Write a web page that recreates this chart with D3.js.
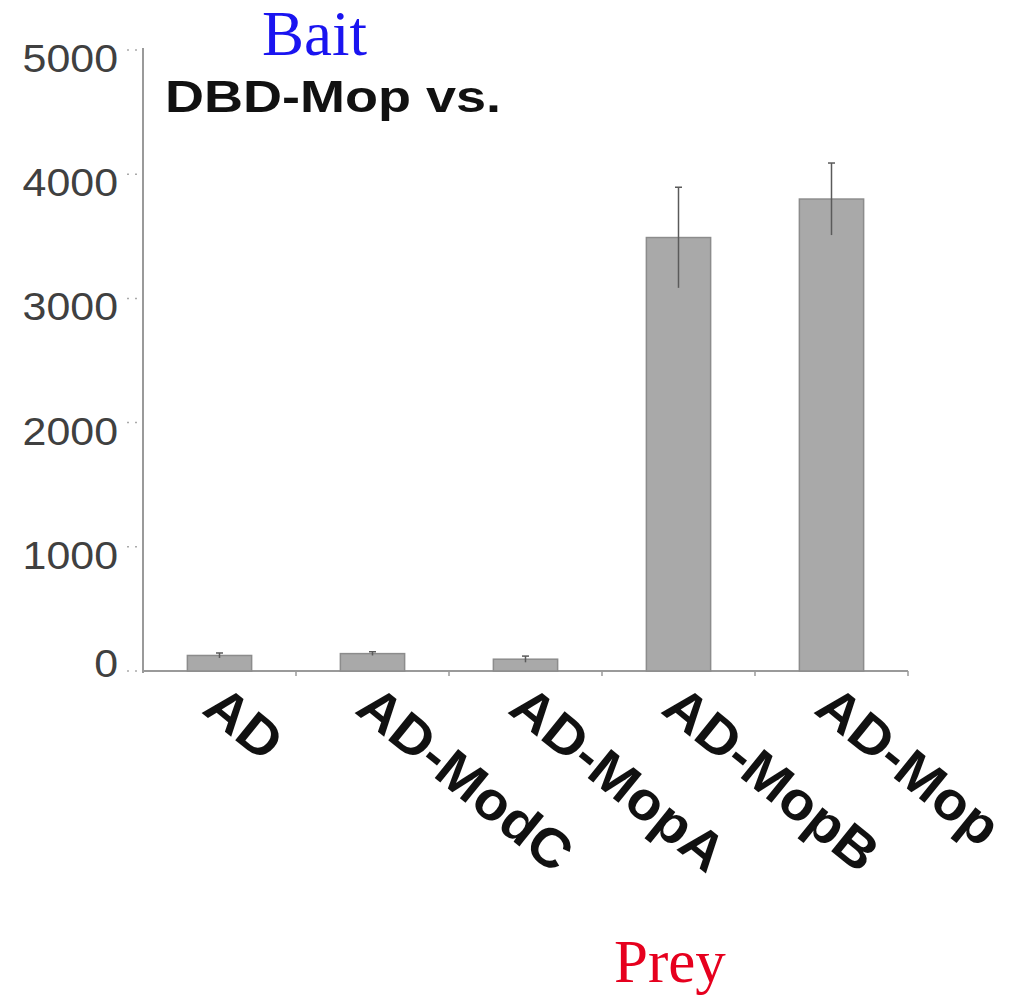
<!DOCTYPE html>
<html>
<head>
<meta charset="utf-8">
<script src="https://cdn.jsdelivr.net/npm/d3@7"></script>
<style>
  html, body { margin: 0; padding: 0; background: #fff; }
  svg { display: block; }
</style>
</head>
<body>
<svg id="chart" width="1015" height="996"></svg>
<script>
// ---- data ----
const categories = ["AD", "AD-ModC", "AD-MopA", "AD-MopB", "AD-Mop"];
const values = [125, 140, 95, 3490, 3800];
const errors = [20, 15, 25, 405, 290];
const yTicks = [0, 1000, 2000, 3000, 4000, 5000];
const titleText = "DBD-Mop vs.";
const baitText = "Bait";
const preyText = "Prey";

const svg = d3.select("#chart");

const x = d3.scaleBand()
  .domain(categories)
  .range([143, 908])
  .paddingInner(0.58)
  .paddingOuter(0.29);
const y = d3.scaleLinear().domain([0, 5000]).range([671, 50]);
const step = x.step();
const cx = d => x(d) + x.bandwidth() / 2;

const axisColor = "#9a9a9a";

// y axis line
svg.append("line")
  .attr("x1", 143).attr("x2", 143)
  .attr("y1", y(5000) - 2).attr("y2", y(0) + 2)
  .attr("stroke", axisColor).attr("stroke-width", 2);

// x axis line
svg.append("line")
  .attr("x1", 143).attr("x2", x.range()[1])
  .attr("y1", y(0)).attr("y2", y(0))
  .attr("stroke", axisColor).attr("stroke-width", 2);

// x ticks at band boundaries
svg.selectAll(".xtick").data(categories).enter().append("line")
  .attr("x1", d => cx(d) + step / 2).attr("x2", d => cx(d) + step / 2)
  .attr("y1", y(0)).attr("y2", y(0) + 5)
  .attr("stroke", axisColor).attr("stroke-width", 1.5);

// y ticks (dotted)
svg.selectAll(".ytick").data(yTicks).enter().append("line")
  .attr("x1", 127).attr("x2", 143)
  .attr("y1", d => y(d)).attr("y2", d => y(d))
  .attr("stroke", "#aaa").attr("stroke-width", 1.5)
  .attr("stroke-dasharray", "2,6");

// y tick labels
svg.selectAll(".ylab").data(yTicks).enter().append("text")
  .attr("transform", d => `translate(118,${y(d) + (d === 0 ? 6 : 22)}) scale(1.1,1)`)
  .attr("text-anchor", "end")
  .attr("font-family", "'Liberation Sans', Arial, sans-serif")
  .attr("font-size", 39)
  .attr("fill", "#404040")
  .text(d => d);

// bars
svg.selectAll(".bar").data(categories).enter().append("rect")
  .attr("x", d => x(d))
  .attr("width", x.bandwidth())
  .attr("y", (d, i) => y(values[i]))
  .attr("height", (d, i) => y(0) - y(values[i]))
  .attr("fill", "#a9a9a9")
  .attr("stroke", "#8c8c8c")
  .attr("stroke-width", 1.5);

// error bars
const eb = svg.selectAll(".err").data(categories).enter().append("g")
  .attr("stroke", "#5a5a5a").attr("stroke-width", 1.5);
eb.append("line")
  .attr("x1", d => cx(d)).attr("x2", d => cx(d))
  .attr("y1", (d, i) => y(values[i] + errors[i]))
  .attr("y2", (d, i) => y(values[i] - errors[i]));
eb.append("line")
  .attr("x1", d => cx(d) - 3.5).attr("x2", d => cx(d) + 3.5)
  .attr("y1", (d, i) => y(values[i] + errors[i]))
  .attr("y2", (d, i) => y(values[i] + errors[i]));

// category labels (rotated)
svg.selectAll(".xlab").data(categories).enter().append("text")
  .attr("transform", d => `translate(${cx(d) - 19},${y(0) + 41}) rotate(39) scale(1.05,1)`)
  .attr("font-family", "'Liberation Sans', Arial, sans-serif")
  .attr("font-weight", "bold")
  .attr("font-size", 54)
  .attr("fill", "#111")
  .text(d => d);

// title
svg.append("text")
  .attr("x", 165).attr("y", 112)
  .attr("font-family", "'Liberation Sans', Arial, sans-serif")
  .attr("font-weight", "bold")
  .attr("font-size", 45)
  .attr("textLength", 336)
  .attr("lengthAdjust", "spacingAndGlyphs")
  .attr("fill", "#111")
  .text(titleText);

// Bait / Prey annotations
svg.append("text")
  .attr("x", 262).attr("y", 55)
  .attr("font-family", "'Liberation Serif', 'Times New Roman', serif")
  .attr("font-size", 63)
  .attr("fill", "#1a14f0")
  .text(baitText);

svg.append("text")
  .attr("x", 614).attr("y", 982)
  .attr("font-family", "'Liberation Serif', 'Times New Roman', serif")
  .attr("font-size", 61)
  .attr("fill", "#e6001e")
  .text(preyText);
</script>
</body>
</html>
